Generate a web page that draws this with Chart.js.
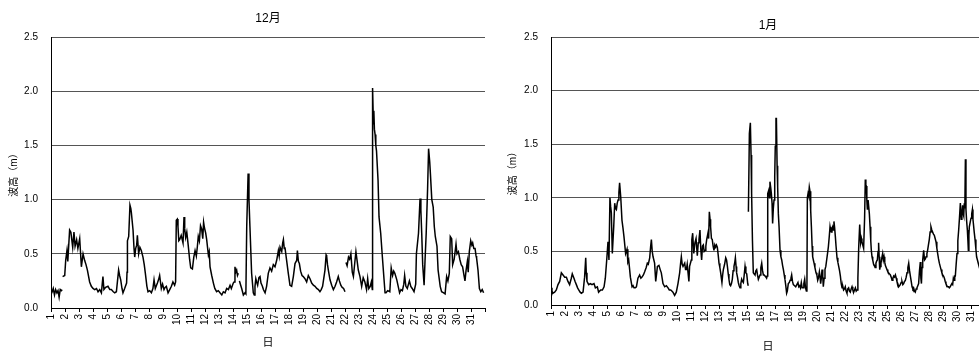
<!DOCTYPE html>
<html>
<head>
<meta charset="utf-8">
<script src="https://cdn.jsdelivr.net/npm/chart.js@4/dist/chart.umd.min.js"></script>
<style>
html, body { margin: 0; padding: 0; background: #fff; overflow: hidden; width: 979px; height: 351px; }
canvas { position: absolute; top: 0; }
</style>
</head>
<body>
<canvas id="dec" width="499" height="351" style="left:0"></canvas>
<canvas id="jan" width="499" height="360" style="left:500px"></canvas>
<script>
var FONT = "'Liberation Sans', 'Noto Sans CJK JP', sans-serif";

// [day, wave height m]; null = missing record
var decWave = [
  [1.00,.17],[1.08,.15],[1.16,.18],[1.25,.12],[1.33,.17],[1.42,.14],[1.50,.16],[1.58,.10],[1.66,.17],[1.75,.16],[1.79,.17],[1.81,null],
  [1.83,.29],[1.98,.30],[2.05,.44],[2.14,.53],[2.20,.43],[2.33,.72],[2.42,.70],[2.55,.56],[2.64,.70],[2.72,.57],[2.83,.63],[2.92,.55],
  [3.05,.64],[3.17,.38],[3.29,.50],[3.40,.44],[3.50,.40],[3.60,.35],[3.76,.24],[3.88,.20],[4.00,.18],[4.12,.17],[4.25,.18],[4.36,.15],
  [4.48,.17],[4.60,.14],[4.71,.29],[4.78,.17],[4.90,.19],[5.07,.20],[5.20,.17],[5.31,.17],[5.45,.15],[5.55,.14],[5.67,.15],[5.75,.25],
  [5.83,.35],[5.90,.30],[5.98,.26],[6.07,.18],[6.14,.14],[6.26,.18],[6.40,.23],[6.43,.33],[6.46,.62],[6.55,.66],[6.64,.95],[6.70,.92],
  [6.74,.88],[6.86,.72],[6.93,.55],[6.98,.47],[7.05,.55],[7.12,.58],[7.17,.67],[7.26,.50],[7.35,.56],[7.45,.53],[7.57,.47],[7.66,.40],
  [7.74,.32],[7.85,.20],[7.93,.15],[8.05,.16],[8.17,.14],[8.28,.18],[8.36,.26],[8.45,.18],[8.60,.23],[8.68,.26],[8.76,.30],[8.88,.18],
  [8.97,.22],[9.07,.17],[9.15,.19],[9.24,.20],[9.36,.14],[9.48,.17],[9.60,.20],[9.71,.24],[9.83,.21],[9.90,.24],[9.95,.81],[10.02,.82],
  [10.07,.75],[10.13,.62],[10.19,.63],[10.30,.67],[10.43,.60],[10.50,.84],[10.55,.73],[10.62,.65],[10.70,.70],[10.80,.58],[10.90,.45],
  [10.98,.37],[11.10,.36],[11.20,.47],[11.29,.53],[11.38,.48],[11.45,.56],[11.52,.66],[11.60,.62],[11.68,.76],[11.76,.73],[11.84,.64],
  [11.90,.79],[11.96,.74],[12.05,.69],[12.12,.63],[12.24,.49],[12.30,.52],[12.36,.38],[12.48,.30],[12.60,.23],[12.70,.18],[12.83,.15],
  [12.95,.16],[13.07,.14],[13.20,.12],[13.31,.15],[13.43,.14],[13.55,.18],[13.67,.17],[13.79,.21],[13.88,.18],[14.02,.23],[14.08,.24],
  [14.14,.38],[14.20,.33],[14.26,.35],[14.32,.30],[14.38,.32],[14.42,null],[14.46,.25],[14.50,.23],[14.62,.18],[14.74,.12],[14.86,.14],
  [14.92,.13],[14.98,.75],[15.08,1.24],[15.14,1.00],[15.21,.75],[15.33,.32],[15.45,.14],[15.52,.12],[15.57,.20],[15.63,.27],[15.69,.24],
  [15.76,.21],[15.85,.28],[15.93,.29],[16.00,.23],[16.10,.20],[16.17,.17],[16.29,.14],[16.40,.20],[16.52,.32],[16.64,.37],[16.76,.34],
  [16.88,.40],[17.00,.38],[17.12,.44],[17.24,.53],[17.30,.48],[17.36,.56],[17.48,.52],[17.55,.60],[17.60,.63],[17.66,.55],[17.71,.56],
  [17.83,.44],[17.95,.32],[18.07,.21],[18.19,.20],[18.31,.29],[18.43,.41],[18.55,.44],[18.60,.53],[18.67,.43],[18.74,.41],[18.83,.34],
  [18.93,.30],[19.02,.29],[19.14,.27],[19.26,.24],[19.38,.30],[19.50,.27],[19.62,.23],[19.74,.21],[19.86,.20],[19.98,.18],[20.10,.17],
  [20.21,.15],[20.30,.17],[20.40,.20],[20.57,.35],[20.65,.49],[20.69,.48],[20.75,.40],[20.81,.35],[20.93,.26],[21.05,.21],[21.17,.17],
  [21.29,.20],[21.40,.24],[21.52,.29],[21.60,.25],[21.70,.21],[21.80,.19],[21.90,.18],[22.00,.15],[22.03,null],[22.07,.42],[22.15,.39],
  [22.25,.47],[22.33,.45],[22.42,.50],[22.52,.33],[22.60,.29],[22.70,.42],[22.78,.52],[22.85,.45],[22.95,.35],[23.07,.29],[23.19,.20],
  [23.30,.28],[23.42,.24],[23.54,.17],[23.62,.27],[23.70,.18],[23.80,.20],[23.88,.24],[23.95,.17],[23.97,2.03],[24.03,1.70],[24.06,1.82],
  [24.10,1.65],[24.15,1.60],[24.20,1.50],[24.25,1.45],[24.36,1.18],[24.43,.84],[24.55,.69],[24.67,.47],[24.79,.26],[24.86,.14],[24.93,.14],
  [25.05,.16],[25.20,.15],[25.30,.37],[25.40,.30],[25.48,.34],[25.56,.32],[25.70,.26],[25.80,.20],[25.90,.14],[26.00,.17],[26.10,.16],
  [26.20,.22],[26.26,.30],[26.35,.20],[26.45,.18],[26.60,.25],[26.70,.20],[26.80,.18],[26.93,.15],[27.05,.22],[27.10,.50],[27.25,.69],
  [27.36,1.01],[27.42,.90],[27.48,.69],[27.55,.40],[27.65,.21],[27.72,.45],[27.80,.69],[27.90,1.10],[27.97,1.47],[28.05,1.35],[28.10,1.24],
  [28.20,1.00],[28.30,.93],[28.38,.75],[28.45,.66],[28.57,.57],[28.65,.35],[28.80,.20],[28.90,.15],[29.05,.14],[29.15,.13],[29.26,.29],
  [29.35,.25],[29.45,.32],[29.52,.66],[29.62,.64],[29.69,.40],[29.80,.45],[29.93,.59],[30.00,.50],[30.10,.52],[30.20,.45],[30.30,.40],
  [30.40,.38],[30.50,.30],[30.57,.25],[30.65,.35],[30.74,.43],[30.80,.33],[30.88,.52],[30.98,.62],[31.06,.58],[31.12,.60],[31.20,.55],
  [31.29,.55],[31.36,.48],[31.40,.46],[31.50,.35],[31.60,.18],[31.70,.15],[31.80,.17],[31.90,.14]
];

var janWave = [
  [1.00,.16],[1.07,.13],[1.14,.11],[1.26,.12],[1.38,.14],[1.50,.19],[1.62,.22],[1.74,.30],[1.86,.28],[1.98,.26],[2.10,.26],[2.21,.22],
  [2.33,.19],[2.45,.25],[2.52,.29],[2.64,.25],[2.72,.22],[2.81,.19],[2.90,.16],[2.98,.14],[3.08,.12],[3.17,.11],[3.29,.12],[3.40,.26],
  [3.48,.44],[3.52,.30],[3.57,.22],[3.69,.19],[3.81,.20],[3.93,.19],[4.07,.20],[4.17,.16],[4.31,.17],[4.40,.12],[4.55,.14],[4.67,.14],
  [4.79,.17],[4.88,.25],[4.98,.42],[5.07,.59],[5.14,.42],[5.21,1.00],[5.26,.92],[5.31,.86],[5.38,.48],[5.48,.73],[5.55,.95],[5.61,.90],
  [5.67,.89],[5.73,.95],[5.79,.98],[5.85,1.05],[5.90,1.14],[5.98,1.01],[6.07,.79],[6.14,.72],[6.21,.64],[6.33,.48],[6.43,.52],[6.49,.40],
  [6.55,.42],[6.67,.26],[6.79,.17],[6.86,.18],[6.93,.16],[7.02,.16],[7.10,.17],[7.21,.25],[7.33,.28],[7.42,.25],[7.50,.26],[7.60,.28],
  [7.69,.31],[7.80,.35],[7.88,.39],[7.95,.38],[8.05,.44],[8.12,.55],[8.17,.61],[8.23,.50],[8.29,.45],[8.40,.39],[8.48,.22],[8.55,.30],
  [8.60,.36],[8.71,.37],[8.80,.33],[8.88,.30],[9.00,.20],[9.12,.17],[9.24,.18],[9.36,.16],[9.45,.14],[9.55,.14],[9.63,.13],[9.71,.12],
  [9.83,.09],[9.95,.12],[10.07,.20],[10.19,.30],[10.25,.38],[10.31,.45],[10.37,.38],[10.43,.36],[10.55,.39],[10.61,.33],[10.67,.33],
  [10.73,.38],[10.79,.30],[10.85,.22],[10.90,.36],[11.02,.42],[11.06,.61],[11.12,.67],[11.20,.48],[11.28,.58],[11.36,.62],[11.45,.46],
  [11.52,.58],[11.57,.61],[11.64,.70],[11.70,.52],[11.76,.42],[11.82,.55],[11.88,.56],[11.94,.50],[12.00,.51],[12.06,.55],[12.12,.61],
  [12.21,.67],[12.26,.62],[12.31,.87],[12.36,.80],[12.40,.73],[12.46,.62],[12.52,.61],[12.58,.55],[12.64,.51],[12.70,.56],[12.76,.54],
  [12.82,.56],[12.88,.54],[12.94,.47],[13.00,.39],[13.06,.35],[13.12,.30],[13.21,.21],[13.26,.28],[13.31,.33],[13.40,.38],[13.48,.44],
  [13.54,.42],[13.60,.36],[13.66,.29],[13.71,.24],[13.77,.19],[13.83,.18],[13.89,.20],[13.95,.24],[14.01,.32],[14.07,.36],[14.13,.40],
  [14.17,.44],[14.22,.36],[14.26,.30],[14.32,.26],[14.38,.21],[14.44,.18],[14.50,.16],[14.56,.20],[14.62,.24],[14.68,.22],[14.74,.21],
  [14.80,.28],[14.86,.36],[14.92,.30],[14.98,.29],[15.05,.20],[15.09,.18],[15.095,null],[15.10,.87],[15.17,1.60],[15.24,1.70],[15.29,1.40],
  [15.33,1.04],[15.39,.60],[15.45,.30],[15.50,.29],[15.57,.28],[15.63,.32],[15.69,.33],[15.75,.28],[15.81,.24],[15.87,.26],[15.93,.28],
  [15.99,.35],[16.05,.39],[16.11,.32],[16.17,.28],[16.23,.28],[16.29,.27],[16.35,.26],[16.40,.25],[16.44,.27],[16.48,1.04],[16.55,1.07],
  [16.60,1.00],[16.64,1.15],[16.69,1.10],[16.74,1.04],[16.79,.95],[16.83,.76],[16.88,.90],[16.93,.98],[16.98,1.20],[17.02,1.48],
  [17.07,1.74],[17.10,1.74],[17.15,1.30],[17.19,1.10],[17.24,.85],[17.29,.73],[17.36,.51],[17.42,.45],[17.48,.42],[17.54,.37],[17.60,.33],
  [17.66,.28],[17.71,.24],[17.77,.18],[17.83,.11],[17.88,.13],[17.95,.20],[18.02,.21],[18.08,.23],[18.14,.25],[18.19,.28],[18.25,.22],
  [18.31,.19],[18.40,.18],[18.48,.17],[18.56,.19],[18.64,.21],[18.70,.17],[18.76,.18],[18.82,.16],[18.88,.21],[18.94,.16],[19.00,.16],
  [19.06,.20],[19.12,.24],[19.18,.16],[19.24,.13],[19.28,.15],[19.31,1.00],[19.36,1.04],[19.40,1.02],[19.45,1.10],[19.50,1.06],[19.55,.88],
  [19.60,.73],[19.65,.55],[19.69,.45],[19.74,.42],[19.79,.39],[19.85,.35],[19.93,.30],[19.99,.28],[20.05,.23],[20.10,.25],[20.17,.31],
  [20.22,.26],[20.26,.20],[20.31,.25],[20.36,.33],[20.41,.27],[20.45,.17],[20.51,.25],[20.57,.33],[20.63,.36],[20.69,.42],[20.75,.48],
  [20.81,.54],[20.87,.63],[20.93,.73],[20.98,.69],[21.02,.68],[21.07,.71],[21.12,.73],[21.17,.70],[21.21,.78],[21.26,.72],[21.31,.64],
  [21.36,.55],[21.43,.44],[21.49,.40],[21.55,.36],[21.61,.32],[21.67,.27],[21.73,.20],[21.79,.16],[21.85,.17],[21.90,.14],[21.96,.15],
  [22.02,.17],[22.08,.13],[22.14,.11],[22.20,.15],[22.26,.16],[22.32,.13],[22.38,.12],[22.44,.15],[22.50,.17],[22.56,.14],[22.62,.12],
  [22.68,.14],[22.74,.16],[22.80,.13],[22.86,.14],[22.92,.25],[22.98,.54],[23.05,.75],[23.12,.58],[23.17,.62],[23.21,.59],[23.27,.56],
  [23.33,.53],[23.40,.81],[23.45,1.17],[23.49,1.12],[23.52,1.11],[23.56,.98],[23.60,.89],[23.65,.98],[23.69,.98],[23.74,.85],[23.79,.73],
  [23.84,.60],[23.88,.51],[23.93,.45],[23.98,.42],[24.04,.38],[24.10,.37],[24.15,.35],[24.21,.39],[24.26,.41],[24.31,.42],[24.36,.50],
  [24.40,.58],[24.44,.45],[24.48,.33],[24.52,.36],[24.57,.39],[24.63,.44],[24.69,.48],[24.74,.42],[24.79,.45],[24.84,.40],[24.88,.37],
  [24.94,.35],[25.00,.33],[25.06,.31],[25.12,.30],[25.18,.29],[25.24,.28],[25.30,.26],[25.36,.23],[25.42,.25],[25.48,.27],[25.54,.26],
  [25.60,.28],[25.66,.25],[25.71,.22],[25.77,.20],[25.83,.17],[25.89,.18],[25.95,.19],[26.01,.21],[26.07,.22],[26.13,.19],[26.19,.20],
  [26.25,.22],[26.31,.23],[26.37,.26],[26.43,.30],[26.49,.35],[26.55,.39],[26.61,.32],[26.67,.27],[26.73,.22],[26.79,.17],[26.85,.15],
  [26.90,.16],[26.96,.13],[27.02,.12],[27.08,.15],[27.14,.16],[27.20,.18],[27.26,.20],[27.32,.32],[27.38,.40],[27.42,.25],[27.46,.20],
  [27.50,.35],[27.55,.42],[27.62,.51],[27.68,.42],[27.74,.43],[27.79,.45],[27.85,.48],[27.90,.51],[27.96,.56],[28.02,.61],[28.08,.68],
  [28.14,.73],[28.20,.70],[28.26,.68],[28.32,.66],[28.38,.65],[28.44,.62],[28.50,.59],[28.56,.53],[28.62,.48],[28.68,.43],[28.74,.39],
  [28.80,.36],[28.86,.33],[28.92,.30],[28.98,.28],[29.04,.27],[29.10,.25],[29.16,.22],[29.21,.20],[29.27,.18],[29.33,.17],[29.39,.17],
  [29.45,.16],[29.51,.17],[29.57,.17],[29.63,.20],[29.69,.19],[29.74,.25],[29.79,.23],[29.84,.27],[29.88,.27],[29.94,.38],[30.00,.48],
  [30.06,.60],[30.12,.70],[30.18,.82],[30.24,.95],[30.30,.80],[30.35,.85],[30.40,.93],[30.44,.85],[30.48,.83],[30.52,.95],[30.56,.90],
  [30.60,1.36],[30.64,.89],[30.69,.78],[30.74,.70],[30.78,.60],[30.81,.51],[30.85,.65],[30.88,.73],[30.94,.77],[31.00,.81],[31.05,.85],
  [31.10,.89],[31.14,.80],[31.17,.76],[31.23,.68],[31.29,.61],[31.35,.52],[31.40,.45],[31.46,.42],[31.52,.39],[31.60,.35],[31.70,.30]
];

var yTicks = [0, 0.5, 1.0, 1.5, 2.0, 2.5];
var dayFirst = 1, dayLast = 31;

function waveChart(id, month, series, g) {
  return new Chart(document.getElementById(id), {
    type: 'line',
    data: {
      datasets: [{
        data: series,
        borderColor: '#000',
        borderWidth: 1.5,
        pointRadius: 0,
        tension: 0,
        spanGaps: false,
        fill: false
      }]
    },
    options: {
      responsive: false,
      animation: false,
      layout: { padding: { left: 0, right: 0, top: 0, bottom: 0 } },
      plugins: {
        legend: { display: false },
        tooltip: { enabled: false },
        title: {
          display: true, text: month, fullSize: false, color: '#000',
          font: { family: FONT, size: 12, weight: 'normal' },
          padding: { top: g.titleTop, bottom: g.titleBottom }
        }
      },
      scales: {
        x: {
          type: 'linear', min: dayFirst, max: dayLast + 1,
          afterFit: function(s) { s.height = g.xHeight; },
          ticks: {
            stepSize: 1, autoSkip: false, minRotation: 90, maxRotation: 90, padding: 2,
            color: '#000', font: { family: FONT, size: 10 },
            callback: function(v) { return v <= dayLast ? String(v) : ''; }
          },
          grid: { drawOnChartArea: false, drawTicks: true, tickLength: 4, color: '#000' },
          border: { color: '#000', width: 1 },
          title: {
            display: true, text: '日', color: '#000',
            font: { family: FONT, size: 11 },
            padding: { top: 0, bottom: g.xTitlePad }
          }
        },
        y: {
          min: yTicks[0], max: yTicks[yTicks.length - 1],
          afterFit: function(s) { s.width = 51; },
          afterBuildTicks: function(s) { s.ticks = yTicks.map(function(v) { return { value: v }; }); },
          ticks: {
            padding: 13, color: '#000', font: { family: FONT, size: 10 },
            callback: function(v) { return v.toFixed(1); }
          },
          grid: { color: '#555', lineWidth: 1, drawTicks: false },
          border: { color: '#000', width: 1 },
          title: {
            display: true, text: '波高（m）', color: '#000',
            font: { family: FONT, size: 10 },
            padding: { top: g.yTitlePad, bottom: 0 }
          }
        }
      }
    }
  });
}

waveChart('dec', '12月', decWave, { titleTop: 11.8, titleBottom: 10.8, xHeight: 43, xTitlePad: 1.4, yTitlePad: 8.5 });
waveChart('jan', '1月', janWave, { titleTop: 18.8, titleBottom: 3.8, xHeight: 55, xTitlePad: 6.4, yTitlePad: 7.5 });
</script>
</body>
</html>
